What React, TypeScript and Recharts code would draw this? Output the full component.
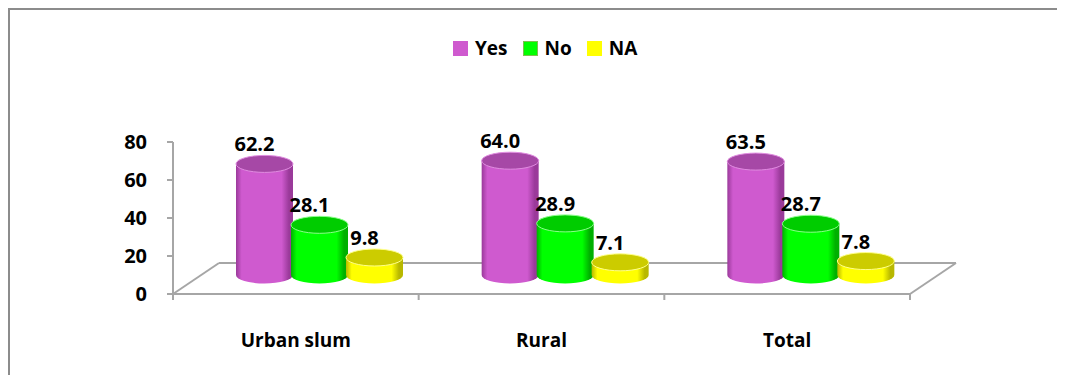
import React from 'react';
import { BarChart, Bar, XAxis, YAxis, ReferenceArea } from 'recharts';

const categories = ['Urban slum', 'Rural', 'Total'];
const yesValues = [62.2, 64.0, 63.5];
const noValues = [28.1, 28.9, 28.7];
const naValues = [9.8, 7.1, 7.8];
const yTicks = [0, 20, 40, 60, 80];

const SERIES = [
  { key: 'yes', name: 'Yes', color: '#cf5acf', dark: '#9a3a9a', top: '#a648a6', rim: '#e08ce0', legendBorder: '#cf5acf' },
  { key: 'no', name: 'No', color: '#00ff00', dark: '#00b000', top: '#00cc00', rim: '#8cff8c', legendBorder: '#7fbf4f' },
  { key: 'na', name: 'NA', color: '#ffff00', dark: '#b8b800', top: '#cccc00', rim: '#ffff8c', legendBorder: '#ffff00' },
];

const data = categories.map((name, i) => ({ name, yes: yesValues[i], no: noValues[i], na: naValues[i] }));

const FONT = '"Open Sans", "Liberation Sans", sans-serif';
const GRID = '#a6a6a6';
const DEPTH_X = 46;
const DEPTH_Y = 31;
const SHIFT_X = 24;
const BASE_LIFT = 19;
const RY = 8.5;

const makeCylinder = (s: typeof SERIES[number]) => (props: any) => {
  const { x, y, width, height, payload } = props;
  const rx = width / 2;
  const cx = x + rx + SHIFT_X;
  const baseC = y + height - BASE_LIFT;
  const topC = baseC - height * 0.94;
  const l = cx - rx;
  const r = cx + rx;
  const body = `M${l},${topC} L${l},${baseC} A${rx},${RY} 0 0 0 ${r},${baseC} L${r},${topC} Z`;
  const v = payload[s.key] as number;
  return (
    <g>
      <path d={body} fill={`url(#cyl-${s.key})`} />
      <ellipse cx={cx} cy={topC} rx={rx} ry={RY} fill={s.top} stroke={s.rim} strokeWidth={1} />
      <text x={cx - 10} y={topC - RY - 4} textAnchor="middle" fontFamily={FONT} fontWeight={700} fontSize={20} fill="#000">
        {v.toFixed(1)}
      </text>
    </g>
  );
};

const Floor = (props: any) => {
  const { x, y, width, height } = props;
  const fy = y + height;
  const n = categories.length;
  return (
    <g stroke={GRID} strokeWidth={2} fill="none">
      <line x1={x + DEPTH_X} y1={fy - DEPTH_Y} x2={x + width + DEPTH_X} y2={fy - DEPTH_Y} />
      <line x1={x} y1={fy} x2={x + DEPTH_X} y2={fy - DEPTH_Y} />
      <line x1={x + width} y1={fy} x2={x + width + DEPTH_X} y2={fy - DEPTH_Y} />
      {Array.from({ length: n + 1 }, (_, i) => (
        <line key={i} x1={x + (i * width) / n} y1={fy} x2={x + (i * width) / n} y2={fy + 6} />
      ))}
    </g>
  );
};

const CategoryTick = (props: any) => {
  const { x, y, payload } = props;
  return (
    <text x={x} y={y + 47} textAnchor="middle" fontFamily={FONT} fontWeight={700} fontSize={19} fill="#000">
      {payload.value}
    </text>
  );
};

export default function App() {
  return (
    <div
      style={{
        position: 'relative',
        width: 1060,
        height: 367,
        borderLeft: '2px solid #8c8c8c',
        borderTop: '2px solid #8c8c8c',
        background: '#fff',
      }}
    >
      <style>{'body{overflow:hidden}'}</style>
      <div
        style={{
          position: 'absolute',
          left: 443,
          top: 31,
          display: 'flex',
          alignItems: 'center',
          fontFamily: FONT,
          fontWeight: 700,
          fontSize: 19,
          color: '#000',
          zIndex: 2,
        }}
      >
        {SERIES.map((s) => (
          <div key={s.key} style={{ display: 'flex', alignItems: 'center', marginRight: 15 }}>
            <span
              style={{
                width: 13,
                height: 13,
                background: s.color,
                border: `1px solid ${s.legendBorder}`,
                marginRight: 7,
                display: 'inline-block',
              }}
            />
            <span style={{ lineHeight: '15px' }}>{s.name}</span>
          </div>
        ))}
      </div>
      <BarChart
        width={1055}
        height={365}
        data={data}
        margin={{ top: 132, right: 155, left: 103, bottom: 21 }}
        barSize={57}
        barGap={-2}
      >
        <defs>
          {SERIES.map((s) => (
            <linearGradient key={s.key} id={`cyl-${s.key}`} x1="0" y1="0" x2="1" y2="0">
              <stop offset="0%" stopColor={s.dark} />
              <stop offset="10%" stopColor={s.color} />
              <stop offset="45%" stopColor={s.color} />
              <stop offset="80%" stopColor={s.color} />
              <stop offset="93%" stopColor={s.dark} />
              <stop offset="100%" stopColor={s.dark} />
            </linearGradient>
          ))}
        </defs>
        <ReferenceArea y1={0} y2={80} ifOverflow="visible" shape={<Floor />} />
        <XAxis
          dataKey="name"
          height={60}
          axisLine={{ stroke: GRID, strokeWidth: 2 }}
          tickLine={false}
          tickMargin={0}
          tick={<CategoryTick />}
          interval={0}
        />
        <YAxis
          domain={[0, 80]}
          ticks={yTicks}
          width={60}
          axisLine={{ stroke: GRID, strokeWidth: 2 }}
          tickLine={{ stroke: GRID, strokeWidth: 2 }}
          tickSize={6}
          tickMargin={20}
          tick={{ fontFamily: FONT, fontWeight: 700, fontSize: 20, fill: '#000' }}
        />
        {SERIES.map((s) => (
          <Bar key={s.key} dataKey={s.key} name={s.name} fill={s.color} shape={makeCylinder(s)} isAnimationActive={false} />
        ))}
      </BarChart>
    </div>
  );
}
